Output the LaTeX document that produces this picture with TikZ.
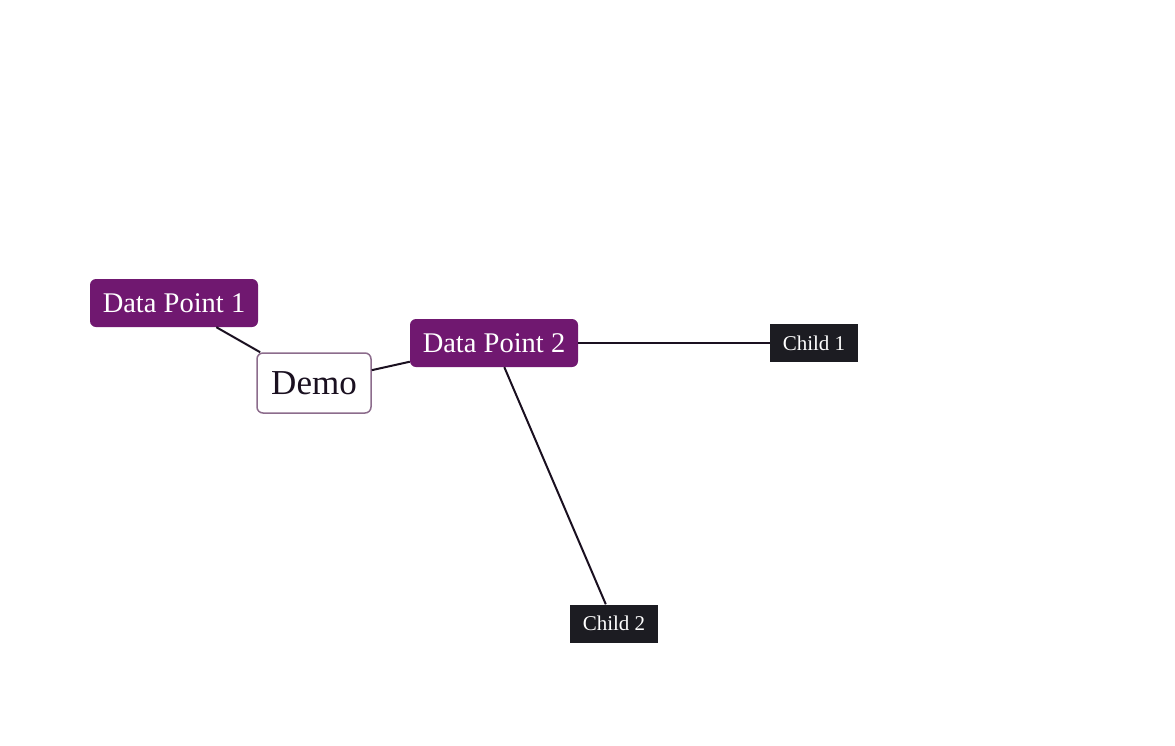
\documentclass[tikz,border=0pt]{standalone}
\usepackage{fontspec}
\setmainfont{Liberation Serif}
\definecolor{dp}{HTML}{701870}
\definecolor{childfill}{HTML}{1C1C22}
\definecolor{demoborder}{HTML}{8C6C8C}
\definecolor{edge}{HTML}{1A1020}
\begin{document}
\begin{tikzpicture}[x=1pt,y=-1pt,
  dpbox/.style={draw=none,fill=dp,text=white,rounded corners=6pt,minimum width=168pt,minimum height=48pt,inner sep=0pt,font=\fontsize{28.5}{32}\selectfont},
  demobox/.style={draw=demoborder,line width=1.5pt,fill=white,text=edge,rounded corners=6pt,minimum width=114pt,minimum height=60pt,inner sep=0pt,font=\fontsize{35}{40}\selectfont},
  childbox/.style={fill=childfill,text=white,minimum width=88pt,minimum height=38pt,inner sep=0pt,font=\fontsize{21}{24}\selectfont},
  link/.style={draw=edge,line width=2pt}]
\useasboundingbox (0,0) rectangle (1175,745);
\node[dpbox] (dp1) at (174,303) {Data Point 1};
\node[demobox] (demo) at (314,383) {Demo};
\node[dpbox] (dp2) at (494,343) {Data Point 2};
\node[childbox] (c1) at (814,343) {Child 1};
\node[childbox] (c2) at (614,623.5) {Child 2};
\draw[link] (dp1) -- (demo);
\draw[link] (demo) -- (dp2);
\draw[link] (dp2) -- (c1);
\draw[link] (dp2) -- (c2);
\end{tikzpicture}
\end{document}
